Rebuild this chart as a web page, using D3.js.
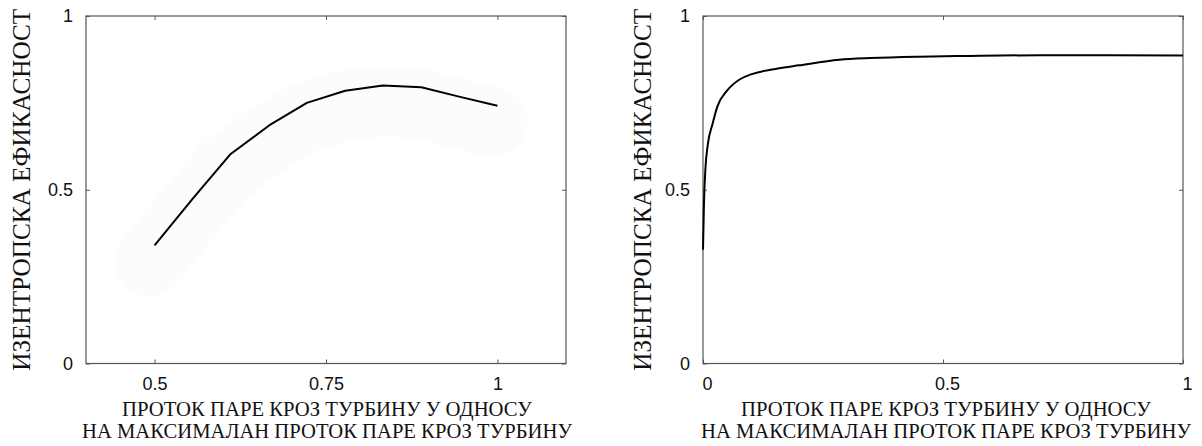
<!DOCTYPE html>
<html>
<head>
<meta charset="utf-8">
<script src="https://cdn.jsdelivr.net/npm/d3@7"></script>
<style>
  body { margin: 0; background: #fff; }
  svg { display: block; }
  .tick text { font-family: "Liberation Sans", Arial, sans-serif; font-size: 18px; fill: #111; }
  .lbl { font-family: "Liberation Serif", "Times New Roman", serif; fill: #111; }
</style>
</head>
<body>
<div id="chart"></div>
<script>
// left panel: efficiency vs relative steam flow (part load)
var leftFlow = [0.5, 0.556, 0.611, 0.667, 0.722, 0.778, 0.833, 0.889, 0.944, 1.0];
var leftEff  = [0.34, 0.475, 0.603, 0.685, 0.75, 0.785, 0.80, 0.795, 0.768, 0.742];
var leftXTicks = [0.5, 0.75, 1];

// right panel: efficiency over the whole flow range
var rightFlow = [0, 0.002, 0.005, 0.01, 0.02, 0.03, 0.05, 0.077, 0.1, 0.156, 0.2, 0.284, 0.35, 0.45, 0.55, 0.7, 0.85, 1.0];
var rightEff  = [0.327, 0.46, 0.56, 0.63, 0.69, 0.74, 0.785, 0.818, 0.832, 0.849, 0.858, 0.874, 0.879, 0.883, 0.885, 0.887, 0.887, 0.886];
var rightXTicks = [0, 0.5, 1];

var yTicks = [0, 0.5, 1];
var yLabel = "ИЗЕНТРОПСКА ЕФИКАСНОСТ";
var xLabel1 = "ПРОТОК ПАРЕ КРОЗ ТУРБИНУ У ОДНОСУ";
var xLabel2 = "НА МАКСИМАЛАН ПРОТОК ПАРЕ КРОЗ ТУРБИНУ";

var svg = d3.select("#chart").append("svg")
    .attr("width", 1202)
    .attr("height", 446);

function panel(p) {
    var x = d3.scaleLinear().domain(p.xdom).range([p.left, p.right]);
    var y = d3.scaleLinear().domain([0, 1]).range([p.bottom, p.top]);
    var g = svg.append("g");
    var pts = p.xs.map(function(d, i) { return [d, p.ys[i]]; });

    // faint smudge around the left curve
    if (p.halo) {
        g.append("path")
            .datum(pts)
            .attr("fill", "none")
            .attr("stroke", "#fcfcfc")
            .attr("stroke-width", 70)
            .attr("stroke-linecap", "round")
            .attr("stroke-linejoin", "round")
            .attr("transform", "translate(-5,16)")
            .attr("d", d3.line().x(function(d) { return x(d[0]); }).y(function(d) { return y(d[1]); }));
    }

    g.append("rect")
        .attr("x", p.left).attr("y", p.top)
        .attr("width", p.right - p.left).attr("height", p.bottom - p.top)
        .attr("fill", "none").attr("stroke", "#555").attr("stroke-width", 1.2);

    var ax = function(a) { return a.tickSizeInner(-4).tickSizeOuter(0); };

    var bottom = g.append("g").attr("transform", "translate(0," + p.bottom + ")")
        .call(ax(d3.axisBottom(x)).tickValues(p.xticks).tickPadding(14).tickFormat(function(d) { return String(d); }));
    bottom.selectAll(".tick text").attr("dx", p.dx);
    g.append("g").attr("transform", "translate(0," + p.top + ")")
        .call(ax(d3.axisTop(x)).tickValues(p.xticks).tickFormat(""));
    g.append("g").attr("transform", "translate(" + p.left + ",0)")
        .call(ax(d3.axisLeft(y)).tickValues(yTicks).tickPadding(13).tickFormat(function(d) { return String(d); }));
    g.append("g").attr("transform", "translate(" + p.right + ",0)")
        .call(ax(d3.axisRight(y)).tickValues(yTicks).tickFormat(""));
    g.selectAll(".domain").remove();
    g.selectAll(".tick line").attr("stroke", "#555");

    g.append("path")
        .datum(pts)
        .attr("fill", "none")
        .attr("stroke", "#000")
        .attr("stroke-width", 2)
        .attr("stroke-linejoin", "round")
        .attr("d", d3.line().curve(p.curve)
            .x(function(d) { return x(d[0]); })
            .y(function(d) { return y(d[1]); }));

    var cx = (p.left + p.right) / 2 + p.lx;
    g.append("text").attr("class", "lbl")
        .attr("x", cx).attr("y", 416)
        .attr("text-anchor", "middle").attr("font-size", 20)
        .attr("textLength", 410).attr("lengthAdjust", "spacingAndGlyphs")
        .text(xLabel1);
    g.append("text").attr("class", "lbl")
        .attr("x", cx).attr("y", 438)
        .attr("text-anchor", "middle").attr("font-size", 20)
        .attr("textLength", 490).attr("lengthAdjust", "spacingAndGlyphs")
        .text(xLabel2);

    g.append("text").attr("class", "lbl")
        .attr("transform", "translate(" + p.ylx + "," + ((p.top + p.bottom) / 2) + ") rotate(-90)")
        .attr("text-anchor", "middle").attr("font-size", 25)
        .attr("textLength", 362).attr("lengthAdjust", "spacingAndGlyphs")
        .text(yLabel);
}

panel({ xs: leftFlow, ys: leftEff, xticks: leftXTicks, xdom: [0.4, 1.1],
        left: 86, right: 566, top: 16, bottom: 363.5, dx: 0, lx: 1, ylx: 30,
        curve: d3.curveLinear, halo: true });
panel({ xs: rightFlow, ys: rightEff, xticks: rightXTicks, xdom: [0, 1],
        left: 703, right: 1183, top: 16, bottom: 363.5, dx: 4, lx: 3, ylx: 651,
        curve: d3.curveMonotoneX, halo: false });
</script>
</body>
</html>
